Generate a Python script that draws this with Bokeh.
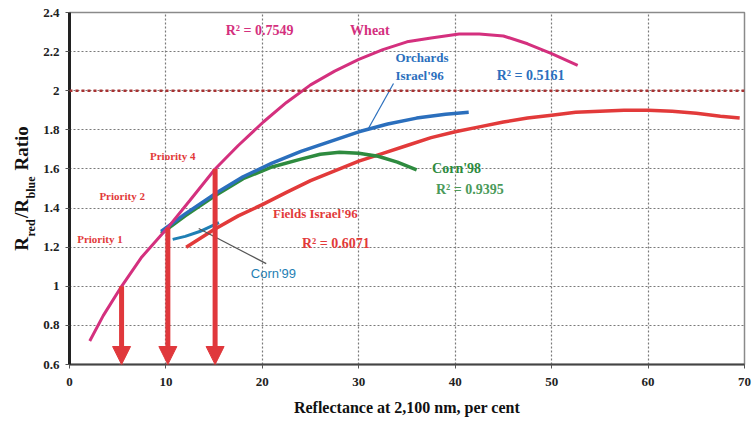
from bokeh.plotting import figure
from bokeh.models import (ColumnDataSource, Range1d, FixedTicker, Span, Arrow, NormalHead,
                          LinearAxis)
from bokeh.embed import file_html
from bokeh.resources import INLINE
from bokeh.core.properties import value

# ---------------- data ----------------
x_ticks = [0, 10, 20, 30, 40, 50, 60, 70]
y_ticks = [0.6, 0.8, 1.0, 1.2, 1.4, 1.6, 1.8, 2.0, 2.2, 2.4]
y_tick_labels = ["0.6", "0.8", "1", "1.2", "1.4", "1.6", "1.8", "2", "2.2", "2.4"]

wheat_x = [2.1, 3.5, 5.4, 7.5, 10.2, 12.5, 15.1, 17.5, 20.1, 22.5, 25, 27.5, 30, 32.5, 35, 37.5, 40.4, 42.5, 45, 47.5, 50, 52.7]
wheat_y = [0.72, 0.85, 1.00, 1.15, 1.30, 1.44, 1.60, 1.72, 1.84, 1.94, 2.03, 2.10, 2.16, 2.21, 2.25, 2.27, 2.29, 2.29, 2.28, 2.24, 2.19, 2.13]

orchards_x = [9.5, 12, 15, 18, 21, 24, 27, 30, 33, 36, 39, 41.4]
orchards_y = [1.28, 1.37, 1.47, 1.56, 1.63, 1.69, 1.74, 1.79, 1.83, 1.86, 1.88, 1.89]

corn98_x = [9.5, 12, 15, 18, 21, 24, 26, 28, 30, 32, 34, 36]
corn98_y = [1.27, 1.36, 1.46, 1.55, 1.61, 1.65, 1.675, 1.685, 1.68, 1.665, 1.635, 1.595]

fields_x = [12.1, 15, 17.5, 20.1, 22.5, 25, 27.5, 30, 32.5, 35, 37.5, 40, 42.5, 45, 47.5, 50, 52.5, 55, 57.5, 60, 62.5, 65, 67.5, 69.5]
fields_y = [1.20, 1.29, 1.36, 1.42, 1.48, 1.54, 1.59, 1.64, 1.68, 1.72, 1.76, 1.79, 1.815, 1.84, 1.86, 1.875, 1.89, 1.895, 1.90, 1.90, 1.895, 1.885, 1.87, 1.86]

corn99_x = [10.7, 12, 13.5, 15.5]
corn99_y = [1.24, 1.255, 1.28, 1.325]

threshold = 2.0
priority_x = [5.4, 10.2, 15.1]
priority_y = [1.0, 1.30, 1.60]

label_text = ["R\u00b2 = 0.7549", "Wheat", "Orchards", "Israel'96", "R\u00b2 = 0.5161",
              "Corn'98", "R\u00b2 = 0.9395", "Fields Israel'96", "R\u00b2 = 0.6071",
              "Priority 4", "Priority 2", "Priority 1"]
x_title = "Reflectance at 2,100 nm, per cent"

# ---------------- styles / positions ----------------
C_WHEAT = "#d4307e"
C_ORCH = "#2b6fbd"
C_CORN98 = "#2e8b3f"
C_FIELDS = "#e23a3a"
C_CORN99 = "#1f7fb4"
C_ARROW = "#e0383c"
FONT = "Liberation Serif"
NB = "\u00a0"

# y title: main line and subscript line (subscripts sit under the gaps)
y_title_main = "R" + NB * 4 + "/R" + NB * 6 + "Ratio"
y_title_sub = "red" + NB * 7 + "blue" + NB * 12

label_x = [16.2, 29.1, 33.8, 33.8, 44.3, 37.6, 38.0, 21.1, 24.1, 8.35, 3.1, 0.8]
label_y = [2.31, 2.31, 2.17, 2.08, 2.08, 1.60, 1.495, 1.37, 1.22, 1.664, 1.46, 1.24]
label_color = [C_WHEAT, C_WHEAT, C_ORCH, C_ORCH, C_ORCH, C_CORN98, "#4a9a5a",
               C_FIELDS, C_FIELDS, C_FIELDS, C_FIELDS, C_FIELDS]
label_size = ["14px", "14px", "13px", "13px", "14px", "14px", "14px",
              "13px", "14px", "11px", "11px", "11px"]

p = figure(width=752, height=427, output_backend="svg", toolbar_location=None,
           x_range=Range1d(0, 70), y_range=Range1d(0.6, 2.4),
           min_border_left=0, min_border_right=8, min_border_top=12, min_border_bottom=63,
           background_fill_color="white", border_fill_color="white")

p.xaxis.ticker = FixedTicker(ticks=x_ticks)
p.yaxis.ticker = FixedTicker(ticks=y_ticks)
p.yaxis.major_label_overrides = dict(zip(y_ticks, y_tick_labels))
for ax in (p.xaxis[0], p.yaxis[0]):
    ax.major_label_text_font = FONT
    ax.major_label_text_font_style = "bold"
    ax.major_label_text_font_size = "13px"
    ax.major_label_text_color = "#222222"
    ax.minor_tick_line_color = None
    ax.major_tick_in = 0
    ax.major_tick_out = 4
    ax.major_tick_line_color = "#555555"
p.yaxis[0].major_label_standoff = 6
p.xaxis[0].major_label_standoff = 9
p.yaxis[0].axis_line_width = 3
p.yaxis[0].axis_line_color = "#222222"
p.xaxis[0].axis_line_width = 2
p.xaxis[0].axis_line_color = "#444444"
p.xaxis[0].axis_label = x_title
p.xaxis[0].axis_label_text_font = FONT
p.xaxis[0].axis_label_text_font_style = "bold"
p.xaxis[0].axis_label_text_font_size = "16px"
p.xaxis[0].axis_label_text_color = "#111111"
p.xaxis[0].axis_label_standoff = 10


def title_axis(text, size, standoff):
    return LinearAxis(ticker=FixedTicker(ticks=[]), axis_label=text,
                      axis_label_text_font=FONT, axis_label_text_font_style="bold",
                      axis_label_text_font_size=size, axis_label_text_color="#111111",
                      axis_label_standoff=standoff,
                      axis_line_color=None, major_tick_line_color=None,
                      minor_tick_line_color=None, major_tick_in=0, major_tick_out=0,
                      minor_tick_in=0, minor_tick_out=0, major_label_standoff=0)


# stacked from the frame outwards: subscripts, main title, small spacer
p.add_layout(title_axis(y_title_sub, "12px", 3), "left")
p.add_layout(title_axis(y_title_main, "19px", -11), "left")
p.add_layout(title_axis(NB, "2px", 2), "left")

p.xgrid.ticker = FixedTicker(ticks=x_ticks)
p.ygrid.ticker = FixedTicker(ticks=y_ticks)
p.grid.grid_line_color = "#7a7a7a"
p.grid.grid_line_dash = "2 2"
p.grid.grid_line_width = 1.2
p.outline_line_color = "#8a8a8a"
p.outline_line_width = 1.5

p.add_layout(Span(location=threshold, dimension="width", line_color="#a83232",
                  line_dash="3 3", line_width=2.5))

p.line(fields_x, fields_y, line_color=C_FIELDS, line_width=3.5)
p.line(corn98_x, corn98_y, line_color=C_CORN98, line_width=3.5)
p.line(orchards_x, orchards_y, line_color=C_ORCH, line_width=3.5)
p.line(corn99_x, corn99_y, line_color=C_CORN99, line_width=3)
p.line(wheat_x, wheat_y, line_color=C_WHEAT, line_width=3)

# leader lines (label -> curve)
leader_x0 = [13.4, 31.0]
leader_y0 = [1.295, 1.807]
leader_x1 = [20.4, 33.6]
leader_y1 = [1.116, 2.037]
leader_color = ["#555555", C_ORCH]
p.segment(x0=leader_x0, y0=leader_y0, x1=leader_x1, y1=leader_y1,
          line_color=leader_color, line_width=1.2)

y_min = p.y_range.start
for px_, py_ in zip(priority_x, priority_y):
    p.add_layout(Arrow(end=NormalHead(size=18, fill_color=C_ARROW, line_color=C_ARROW),
                       x_start=px_, y_start=py_, x_end=px_, y_end=y_min,
                       line_color=C_ARROW, line_width=5))

src = ColumnDataSource(dict(x=label_x, y=label_y, text=label_text,
                            color=label_color, size=label_size))
p.text(x="x", y="y", text="text", source=src, text_color="color", text_font_size="size",
       text_font=value(FONT), text_font_style="bold",
       text_align="left", text_baseline="middle")
p.text(x=[18.8], y=[1.065], text=["Corn'99"], text_color=C_CORN99, text_font_size="13px",
       text_font=value("Liberation Sans"), text_align="left", text_baseline="middle")

open("out.html", "w").write(file_html(p, INLINE))
